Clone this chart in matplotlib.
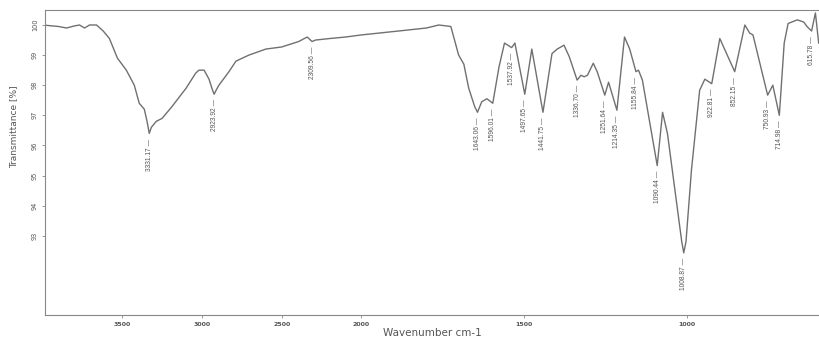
import numpy as np
import matplotlib
matplotlib.use('Agg')
import matplotlib.pyplot as plt

# FTIR spectrum (wavenumber cm-1, transmittance %)
wavenumber = [4000, 3900, 3850, 3800, 3769, 3737, 3706, 3662, 3620, 3581,
              3531, 3475, 3425, 3394, 3362, 3345, 3331.17, 3318, 3287, 3250, 3187, 3100,
              3040, 3019, 2987, 2956, 2935, 2923.92, 2910, 2894, 2831, 2787, 2706, 2600, 2500,
              2394, 2340, 2309.56, 2288, 2200, 2100, 2000, 1886, 1800, 1762,
              1725, 1701, 1685, 1670, 1652, 1643.06, 1630, 1614, 1596.01, 1577, 1560,
              1537.92, 1528, 1497.65, 1476, 1441.75, 1414, 1398, 1377, 1361, 1336.70,
              1325, 1315, 1305, 1287, 1275, 1251.64, 1240, 1214.35, 1191, 1175,
              1155.84, 1148, 1136, 1090.44, 1074, 1059, 1015, 1008.87, 1002, 985, 960, 944,
              922.81, 898, 852.15, 821, 806, 796, 750.93, 735, 714.98, 700,
              688, 660, 640, 630, 615.78, 604, 594]
transmittance = [100.0, 99.95, 99.9, 99.97, 100.0, 99.9, 100.0, 100.0, 99.8, 99.55,
                 98.9, 98.5, 98.0, 97.4, 97.2, 96.8, 96.4, 96.6, 96.8, 96.9, 97.3, 97.9,
                 98.4, 98.5, 98.5, 98.2, 97.85, 97.7, 97.85, 98.0, 98.45, 98.8, 99.0, 99.2, 99.27,
                 99.45, 99.6, 99.45, 99.5, 99.55, 99.6, 99.67, 99.8, 99.9, 100.0,
                 99.95, 99.0, 98.7, 97.9, 97.3, 97.1, 97.45, 97.55, 97.4, 98.6, 99.4,
                 99.25, 99.4, 97.7, 99.2, 97.1, 99.05, 99.2, 99.33, 98.95, 98.17,
                 98.33, 98.28, 98.33, 98.73, 98.45, 97.67, 98.1, 97.17, 99.6, 99.2,
                 98.45, 98.5, 98.17, 95.33, 97.1, 96.4, 92.8, 92.43, 92.8, 95.2, 97.83, 98.2,
                 98.05, 99.55, 98.45, 100.0, 99.73, 99.67, 97.67, 98.0, 97.0, 99.4,
                 100.05, 100.17, 100.1, 99.95, 99.8, 100.4, 99.4]

peak_labels = ['3331.17', '2923.92', '2309.56', '1643.06', '1596.01', '1537.92',
               '1497.65', '1441.75', '1336.70', '1251.64', '1214.35', '1155.84',
               '1090.44', '1008.87', '922.81', '852.15', '750.93', '714.98', '615.78']

xticks = [3500, 3000, 2500, 2000, 1500, 1000]
yticks = [93, 94, 95, 96, 97, 98, 99, 100]

# axis is compressed above 2000 cm-1
K = 0.49


def fwd(x):
    x = np.asarray(x, dtype=float)
    return np.where(x > 2000, 2000 + (x - 2000) * K, x)


def inv(x):
    x = np.asarray(x, dtype=float)
    return np.where(x > 2000, 2000 + (x - 2000) / K, x)


line_col = '#707070'
text_col = '#555555'

fig = plt.figure(figsize=(8.19, 3.43), dpi=100)
ax = fig.add_axes([0.055, 0.082, 0.945, 0.889])
ax.set_xscale('function', functions=(fwd, inv))
ax.plot(wavenumber, transmittance, color=line_col, lw=1.0)
ax.set_xlim(3985, 593)
ax.set_ylim(90.37, 100.5)

lookup = dict(zip(wavenumber, transmittance))
for lab in peak_labels:
    wn = float(lab)
    ax.text(wn, lookup[wn] - 0.17, lab + ' \u2014', rotation=90, ha='center', va='top',
            fontsize=4.8, color=text_col, family='Liberation Sans')

ax.set_xticks(xticks)
ax.set_xticklabels([str(t) for t in xticks], fontsize=4.5, fontweight='bold', color=text_col)
ax.set_yticks(yticks)
ax.set_yticklabels([str(t) for t in yticks], fontsize=4.8, rotation=90, va='center', color=text_col)
ax.tick_params(axis='both', length=2, width=0.6, color='#888888', pad=3)
ax.minorticks_off()

for side in ['left', 'top', 'bottom']:
    ax.spines[side].set_color('#888888')
    ax.spines[side].set_linewidth(0.8)
ax.spines['right'].set_visible(False)

ax.set_xlabel('Wavenumber cm-1', fontsize=7.5, color=text_col, labelpad=1)
ax.set_ylabel('Transmittance [%]', fontsize=6.5, color=text_col)
ax.yaxis.set_label_coords(-0.035, 0.616)

fig.savefig('out.png', dpi=100)
